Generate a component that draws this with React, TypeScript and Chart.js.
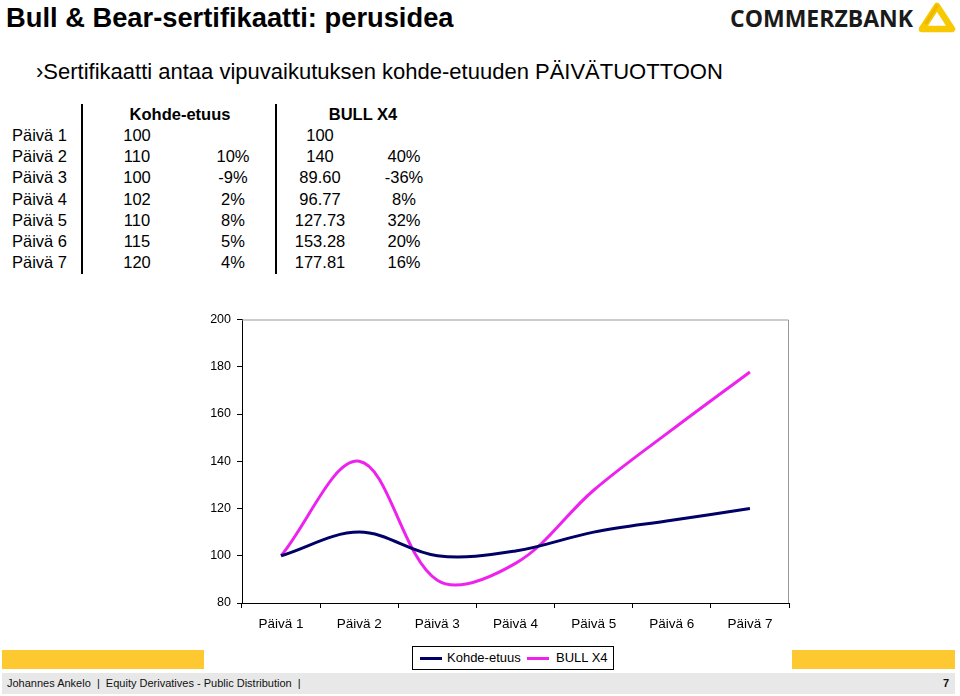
import React, { useEffect, useRef } from "react";
import { Chart, registerables } from "chart.js";

Chart.register(...registerables);

const days = ["Päivä 1", "Päivä 2", "Päivä 3", "Päivä 4", "Päivä 5", "Päivä 6", "Päivä 7"];
const kohdeValues = [100, 110, 100, 102, 110, 115, 120];
const kohdePct = ["", "10%", "-9%", "2%", "8%", "5%", "4%"];
const bullValues = [100, 140, 89.6, 96.77, 127.73, 153.28, 177.81];
const bullLabels = ["100", "140", "89.60", "96.77", "127.73", "153.28", "177.81"];
const bullPct = ["", "40%", "-36%", "8%", "32%", "20%", "16%"];
const yTicks = [80, 100, 120, 140, 160, 180, 200];

const NAVY = "#000066";
const MAGENTA = "#EE22EE";
const YELLOW = "#FDC830";
const FONT = "'Liberation Sans', Arial, sans-serif";

const frameBorder = {
  id: "frameBorder",
  afterDraw(chart: any) {
    const { ctx, chartArea } = chart;
    ctx.save();
    ctx.strokeStyle = "#999999";
    ctx.lineWidth = 1;
    ctx.beginPath();
    ctx.moveTo(chartArea.left, chartArea.top + 0.5);
    ctx.lineTo(chartArea.right - 0.5, chartArea.top + 0.5);
    ctx.lineTo(chartArea.right - 0.5, chartArea.bottom);
    ctx.stroke();
    ctx.restore();
  },
};

function LineChart() {
  const ref = useRef<HTMLCanvasElement>(null);
  useEffect(() => {
    if (!ref.current) return;
    const chart = new Chart(ref.current, {
      type: "line",
      data: {
        labels: days,
        datasets: [
          {
            label: "Kohde-etuus",
            data: kohdeValues,
            borderColor: NAVY,
            backgroundColor: NAVY,
            borderWidth: 3,
            pointRadius: 0,
            tension: 0.35,
          },
          {
            label: "BULL X4",
            data: bullValues,
            borderColor: MAGENTA,
            backgroundColor: MAGENTA,
            borderWidth: 3,
            pointRadius: 0,
            tension: 0.35,
          },
        ],
      },
      options: {
        animation: false,
        responsive: false,
        maintainAspectRatio: false,
        layout: { padding: { top: 12, right: 6, left: 0, bottom: 0 } },
        plugins: { legend: { display: false }, tooltip: { enabled: false } },
        scales: {
          x: {
            type: "category",
            offset: true,
            grid: {
              offset: true,
              drawOnChartArea: false,
              drawTicks: true,
              tickLength: 5,
              color: "#000",
            },
            border: { color: "#000", width: 1 },
            ticks: {
              color: "#000",
              font: { family: FONT, size: 13.5 },
              padding: 8,
              maxRotation: 0,
              autoSkip: false,
            },
            afterFit(scale: any) {
              scale.height = 37;
            },
          },
          y: {
            min: 80,
            max: 200,
            afterBuildTicks(scale: any) {
              scale.ticks = yTicks.map((v) => ({ value: v }));
            },
            grid: {
              drawOnChartArea: false,
              drawTicks: true,
              tickLength: 5,
              color: "#000",
            },
            border: { color: "#000", width: 1 },
            ticks: {
              color: "#000",
              font: { family: FONT, size: 12.5 },
              padding: 6,
            },
            afterFit(scale: any) {
              scale.width = 47;
            },
          },
        },
      },
      plugins: [frameBorder],
    });
    return () => chart.destroy();
  }, []);
  return (
    <canvas
      ref={ref}
      width={600}
      height={334}
      style={{ position: "absolute", left: 195, top: 306, width: 600, height: 334 }}
    />
  );
}

function Logo() {
  return (
    <div style={{ position: "absolute", left: 730, top: 1, width: 230, height: 36 }}>
      <div
        style={{
          position: "absolute",
          left: 0,
          top: 3,
          fontFamily: "'Open Sans', 'DejaVu Sans', sans-serif",
          fontWeight: 700,
          fontSize: 23,
          color: "#1a1a1a",
          letterSpacing: 0,
          lineHeight: "28px",
          whiteSpace: "nowrap",
        }}
      >
        COMMERZBANK
      </div>
      <svg style={{ position: "absolute", left: 188, top: 1 }} width="38" height="32" viewBox="0 0 38 32">
        <polygon
          points="19,4 34,27 4,27"
          fill="none"
          stroke="#F8C800"
          strokeWidth="6.5"
          strokeLinejoin="round"
        />
        <polyline
          points="19,4 8,21"
          fill="none"
          stroke="#E8AE00"
          strokeWidth="3"
          strokeLinecap="round"
          opacity="0.6"
        />
      </svg>
    </div>
  );
}

function DataTable() {
  const rowTop = 125;
  const rowH = 21.2;
  const cell = (text: string, left: number, top: number, width: number, align: any, bold = false) => (
    <div
      style={{
        position: "absolute",
        left,
        top,
        width,
        textAlign: align,
        fontFamily: FONT,
        fontSize: 16.5,
        fontWeight: bold ? 700 : 400,
        lineHeight: "21px",
        color: "#000",
        whiteSpace: "nowrap",
      }}
    >
      {text}
    </div>
  );
  return (
    <div>
      {cell("Kohde-etuus", 120, 104, 120, "center", true)}
      {cell("BULL X4", 303, 104, 120, "center", true)}
      <div style={{ position: "absolute", left: 81, top: 104, width: 2, height: 170, background: "#000" }} />
      <div style={{ position: "absolute", left: 275, top: 104, width: 2, height: 170, background: "#000" }} />
      {days.map((d, i) => (
        <React.Fragment key={d}>
          {cell(d, 12, rowTop + i * rowH, 70, "left")}
          {cell(String(kohdeValues[i]), 104, rowTop + i * rowH, 66, "center")}
          {cell(kohdePct[i], 200, rowTop + i * rowH, 66, "center")}
          {cell(bullLabels[i], 287, rowTop + i * rowH, 66, "center")}
          {cell(bullPct[i], 371, rowTop + i * rowH, 66, "center")}
        </React.Fragment>
      ))}
    </div>
  );
}

function Legend() {
  return (
    <div
      style={{
        position: "absolute",
        left: 412,
        top: 646,
        width: 200,
        height: 22,
        border: "1px solid #000",
        background: "#fff",
        fontFamily: FONT,
        fontSize: 13,
        color: "#000",
      }}
    >
      <div style={{ position: "absolute", left: 7, top: 10, width: 22, height: 3, background: NAVY }} />
      <div style={{ position: "absolute", left: 34, top: 3, lineHeight: "16px" }}>Kohde-etuus</div>
      <div style={{ position: "absolute", left: 114, top: 10, width: 22, height: 3, background: MAGENTA }} />
      <div style={{ position: "absolute", left: 143, top: 3, lineHeight: "16px" }}>BULL X4</div>
    </div>
  );
}

export default function App() {
  return (
    <div
      style={{
        position: "absolute",
        left: 0,
        top: 0,
        width: 960,
        height: 696,
        background: "#fff",
        overflow: "hidden",
        fontFamily: FONT,
      }}
    >
      <div
        style={{
          position: "absolute",
          left: 6,
          top: 1,
          fontFamily: FONT,
          fontWeight: 700,
          fontSize: 27.3,
          lineHeight: "33px",
          color: "#000",
          whiteSpace: "nowrap",
        }}
      >
        Bull &amp; Bear-sertifikaatti: perusidea
      </div>
      <div
        style={{
          position: "absolute",
          left: 36,
          top: 59,
          fontFamily: FONT,
          fontSize: 22,
          lineHeight: "26px",
          color: "#000",
          whiteSpace: "nowrap",
        }}
      >
        ›Sertifikaatti antaa vipuvaikutuksen kohde-etuuden PÄIVÄTUOTTOON
      </div>
      <Logo />
      <DataTable />
      <LineChart />
      <div style={{ position: "absolute", left: 2, top: 650, width: 202, height: 19, background: YELLOW }} />
      <div style={{ position: "absolute", left: 792, top: 650, width: 163, height: 19, background: YELLOW }} />
      <Legend />
      <div
        style={{
          position: "absolute",
          left: 2,
          top: 673,
          width: 953,
          height: 21,
          background: "#E8E8E8",
          fontFamily: FONT,
          fontSize: 11,
          lineHeight: "21px",
          color: "#111",
        }}
      >
        <span style={{ position: "absolute", left: 5, whiteSpace: "pre" }}>
          {"Johannes Ankelo  |  Equity Derivatives - Public Distribution  |"}
        </span>
        <span style={{ position: "absolute", right: 6, fontWeight: 700 }}>7</span>
      </div>
    </div>
  );
}
